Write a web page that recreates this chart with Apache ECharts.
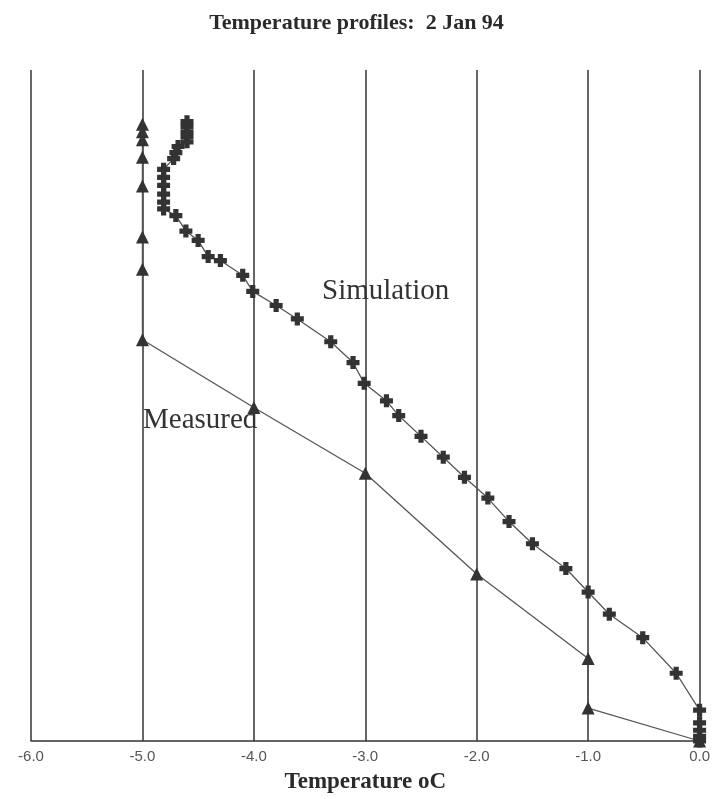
<!DOCTYPE html>
<html>
<head>
<meta charset="utf-8">
<script src="https://cdn.jsdelivr.net/npm/echarts@6/dist/echarts.min.js"></script>
<style>
html,body{margin:0;padding:0;background:#fff;}
#chart{width:713px;height:799px;}
</style>
</head>
<body>
<div id="chart"></div>
<script>
// Measured profile (temperature oC, level above bottom of plot)
var measuredTemp  = [-5, -5, -5, -5, -5, -5, -5, -5, -4, -3, -2, -1, -1, 0];
var measuredLevel = [91.9, 90.8, 89.6, 87.0, 82.7, 75.1, 70.3, 59.8, 49.7, 39.9, 24.9, 12.3, 4.9, 0];

// Simulated profile
var simTemp  = [-4.6, -4.6, -4.6, -4.6, -4.6, -4.68, -4.70, -4.72,
                -4.81, -4.81, -4.81, -4.81, -4.81, -4.81,
                -4.70, -4.61, -4.50, -4.41, -4.30, -4.10, -4.01, -3.80, -3.61, -3.31, -3.11, -3.01,
                -2.81, -2.70, -2.50, -2.30, -2.11, -1.90, -1.71, -1.50, -1.20, -1.00, -0.81, -0.51,
                -0.21, 0, 0, 0, 0, 0];
var simLevel = [92.3, 91.6, 90.8, 90.1, 89.3, 88.6, 87.7, 86.8,
                85.2, 84.0, 82.8, 81.5, 80.3, 79.3,
                78.3, 76.0, 74.6, 72.2, 71.6, 69.4, 67.0, 64.9, 62.9, 59.5, 56.4, 53.3,
                50.7, 48.5, 45.4, 42.3, 39.3, 36.2, 32.7, 29.4, 25.7, 22.2, 18.9, 15.4,
                10.1, 4.6, 2.7, 1.6, 0.7, 0];

var xTicks = [-6, -5, -4, -3, -2, -1, 0];
var titleText = 'Temperature profiles:  2 Jan 94';
var xName = 'Temperature oC';
var seriesNames = ['Measured', 'Simulation'];

function pairs(xs, ys) { return xs.map(function (x, i) { return [x, ys[i]]; }); }

var plusPath = 'path://M3,0 L7,0 L7,3 L10,3 L10,7 L7,7 L7,10 L3,10 L3,7 L0,7 L0,3 L3,3 Z';

var chart = echarts.init(document.getElementById('chart'), null, {renderer: 'canvas'});
chart.setOption({
  backgroundColor: '#ffffff',
  animation: false,
  title: {
    text: titleText,
    left: 'center',
    top: 7,
    textStyle: {fontFamily: 'Liberation Serif', fontWeight: 'bold', fontSize: 22, color: '#2a2a2a'}
  },
  grid: {left: 31, right: 4, top: 70, bottom: 52},
  xAxis: {
    type: 'value',
    min: xTicks[0],
    max: xTicks[xTicks.length - 1],
    interval: 1,
    name: xName,
    nameLocation: 'middle',
    nameGap: 30,
    nameTextStyle: {fontFamily: 'Liberation Serif', fontWeight: 'bold', fontSize: 23, color: '#2a2a2a'},
    axisLine: {show: true, lineStyle: {color: '#333', width: 1.5}},
    axisTick: {show: false},
    axisLabel: {
      margin: 8,
      fontFamily: 'Liberation Sans',
      fontSize: 15,
      color: '#555',
      formatter: function (v) { return v.toFixed(1); }
    },
    splitLine: {show: true, lineStyle: {color: '#333', width: 1.5}}
  },
  yAxis: {
    type: 'value',
    min: 0,
    max: 100,
    show: false,
    splitLine: {show: false}
  },
  series: [
    {
      name: seriesNames[0],
      type: 'line',
      data: pairs(measuredTemp, measuredLevel),
      symbol: 'triangle',
      symbolSize: 13,
      itemStyle: {color: '#333'},
      lineStyle: {color: '#555', width: 1.3},
      z: 3
    },
    {
      name: seriesNames[1],
      type: 'line',
      data: pairs(simTemp, simLevel),
      symbol: plusPath,
      symbolSize: 13,
      itemStyle: {color: '#333'},
      lineStyle: {color: '#555', width: 1.3},
      z: 4
    }
  ],
  graphic: [
    {
      type: 'text',
      left: 322,
      top: 277,
      style: {text: seriesNames[1], fontFamily: 'Liberation Serif', fontSize: 29, fill: '#333'}
    },
    {
      type: 'text',
      left: 143,
      top: 406,
      style: {text: seriesNames[0], fontFamily: 'Liberation Serif', fontSize: 29, fill: '#333'}
    }
  ]
});
</script>
</body>
</html>
